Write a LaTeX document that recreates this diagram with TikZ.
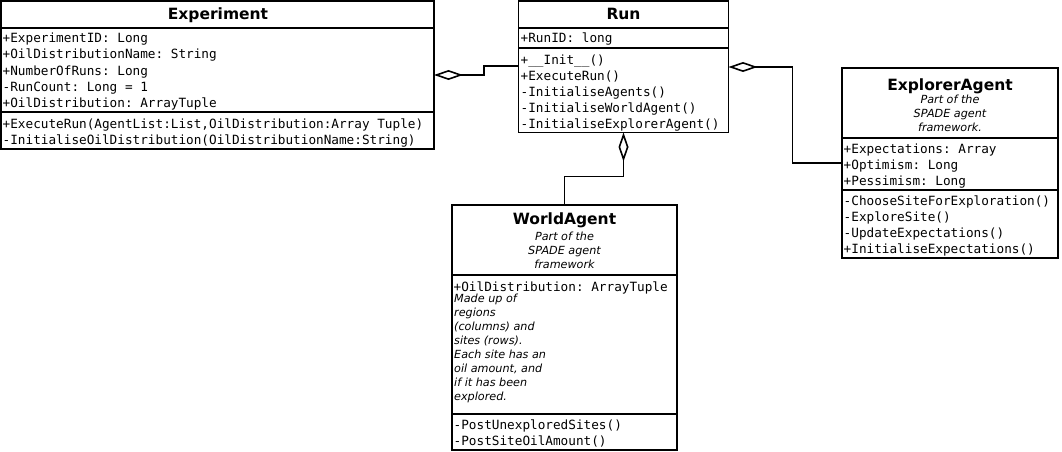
\documentclass[tikz,border=0pt]{standalone}
\usepackage{fontspec}
\usetikzlibrary{arrows.meta}
\newfontfamily\umlmono{DejaVu Sans Mono}
\newfontfamily\umlsans{DejaVu Sans}
\frenchspacing
\begin{document}
\begin{tikzpicture}[x=1pt, y=-1pt,
  cls/.style={draw, line width=1.6pt, inner sep=0pt, outer sep=0pt, anchor=north west},
  sepline/.style={line width=1.6pt},
  mono/.style={font=\umlmono\frenchspacing\fontsize{12.7}{16}\selectfont, inner sep=0pt, anchor=base west},
  ttl/.style={font=\umlsans\bfseries\fontsize{15.5}{18}\selectfont, inner sep=0pt, anchor=base},
  note/.style={font=\umlsans\itshape\frenchspacing\fontsize{11.2}{14}\selectfont, inner sep=0pt, anchor=base},
  lnote/.style={note, anchor=base west},
  agg/.style={line width=1.6pt, {Diamond[open, length=29pt, width=10pt]}-},
]
\useasboundingbox (0,0) rectangle (1062,452);

% ---------- Experiment ----------
\node[cls, minimum width=433pt, minimum height=148pt] (exp) at (1,1) {};
\draw[sepline] ([yshift=-27pt]exp.north west) -- ([yshift=-27pt]exp.north east);
\draw[sepline] ([yshift=-111pt]exp.north west) -- ([yshift=-111pt]exp.north east);
\node[ttl] (expT) at (218,20) {Experiment};
\foreach \t [count=\i] in {+ExperimentID: Long, +OilDistributionName: String, +NumberOfRuns: Long, -RunCount: Long = 1, +OilDistribution: ArrayTuple}
  \node[mono] (expA\i) at ({2.5},{27+16*\i}) {\t};
\foreach \t [count=\i] in {{+ExecuteRun(AgentList:List,OilDistribution:Array Tuple)}, -InitialiseOilDistribution(OilDistributionName:String)}
  \node[mono] (expM\i) at ({2.5},{112+16*\i}) {\t};

% ---------- Run ----------
\node[cls, minimum width=210pt, minimum height=131.5pt] (run) at (518.5,1) {};
\draw[sepline] ([yshift=-27pt]run.north west) -- ([yshift=-27pt]run.north east);
\draw[sepline] ([yshift=-47pt]run.north west) -- ([yshift=-47pt]run.north east);
\node[ttl] (runT) at (623.5,20) {Run};
\node[mono] (runA1) at (520.5,43) {+RunID: long};
\foreach \t [count=\i] in {+\_\_Init\_\_(), +ExecuteRun(), -InitialiseAgents(), -InitialiseWorldAgent(), -InitialiseExplorerAgent()}
  \node[mono] (runM\i) at ({520.5},{48+16*\i}) {\t};

% ---------- ExplorerAgent ----------
\node[cls, minimum width=216pt, minimum height=190pt] (expl) at (842,68) {};
\draw[sepline] ([yshift=-70pt]expl.north west) -- ([yshift=-70pt]expl.north east);
\draw[sepline] ([yshift=-122pt]expl.north west) -- ([yshift=-122pt]expl.north east);
\node[ttl] (explT) at (950,90.5) {ExplorerAgent};
\foreach \t [count=\i] in {Part of the, SPADE agent, framework.}
  \node[note] (explN\i) at ({950},{89.5+14*\i}) {\t};
\foreach \t [count=\i] in {+Expectations: Array, +Optimism: Long, +Pessimism: Long}
  \node[mono] (explA\i) at ({843.5},{137.5+16*\i}) {\t};
\foreach \t [count=\i] in {-ChooseSiteForExploration(), -ExploreSite(), -UpdateExpectations(), +InitialiseExpectations()}
  \node[mono] (explM\i) at ({843.5},{189.5+16*\i}) {\t};

% ---------- WorldAgent ----------
\node[cls, minimum width=225pt, minimum height=245pt] (world) at (452,205) {};
\draw[sepline] ([yshift=-70pt]world.north west) -- ([yshift=-70pt]world.north east);
\draw[sepline] ([yshift=-209pt]world.north west) -- ([yshift=-209pt]world.north east);
\node[ttl] (worldT) at (564.5,224.5) {WorldAgent};
\foreach \t [count=\i] in {Part of the, SPADE agent, framework}
  \node[note] (worldN\i) at ({564.5},{226+14*\i}) {\t};
\node[mono] (worldA1) at (453.5,291) {+OilDistribution: ArrayTuple};
\foreach \t [count=\i] in {Made up of, regions, (columns) and, sites (rows)., Each site has an, {oil amount, and}, if it has been, explored.}
  \node[lnote] (worldC\i) at ({454},{288.5+14*\i}) {\t};
\foreach \t [count=\i] in {-PostUnexploredSites(), -PostSiteOilAmount()}
  \node[mono] (worldM\i) at ({453.5},{414+15.5*\i}) {\t};

% ---------- Connectors ----------
\draw[agg] ([yshift=-74pt]exp.north east) -- ++(50,0) |- ([yshift=-65pt]run.north west);
\draw[agg] ([yshift=-66pt]run.north east) -- ++(64,0) |- ([yshift=-95pt]expl.north west);
\draw[agg] (run.south) -- ++(0,44) -| (world.north);
\end{tikzpicture}
\end{document}
